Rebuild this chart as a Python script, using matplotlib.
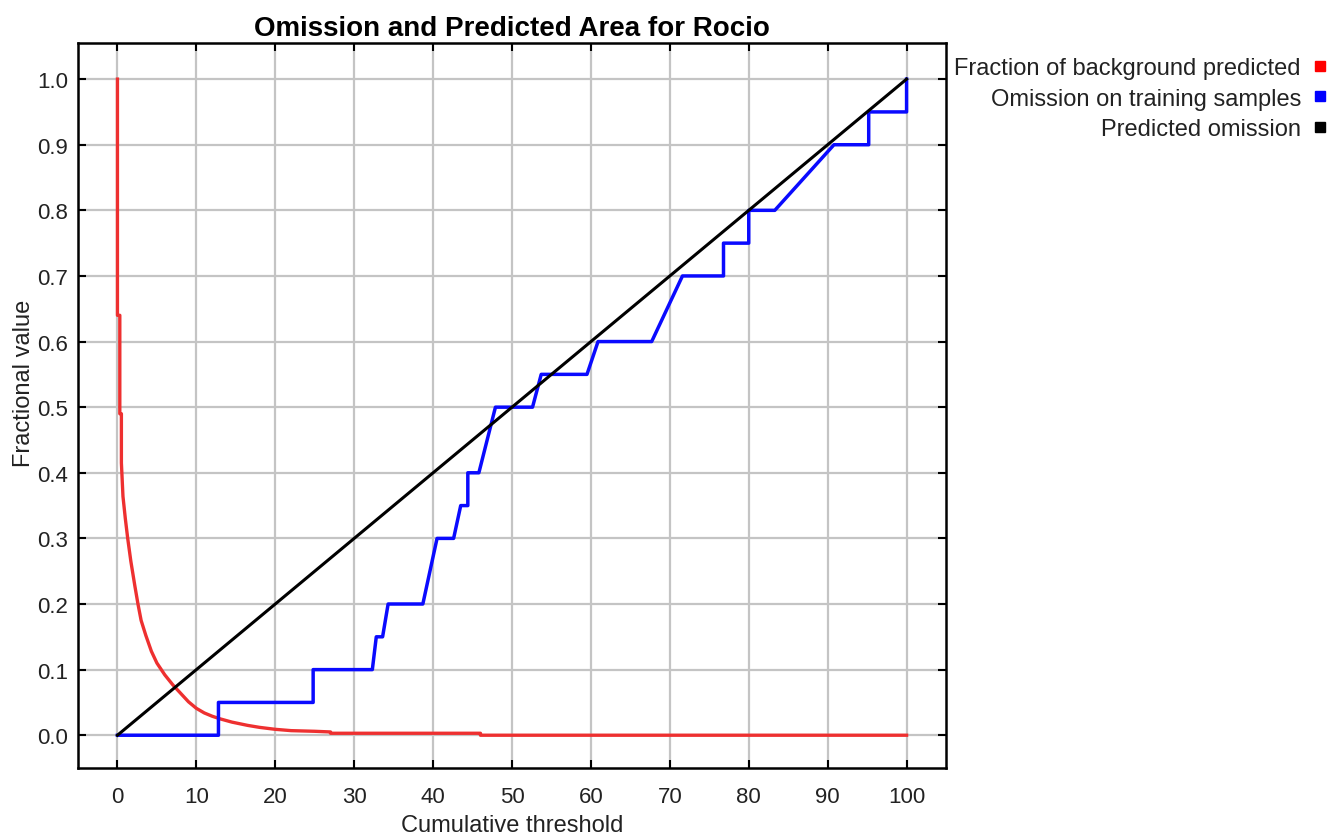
import numpy as np
import matplotlib.pyplot as plt
from matplotlib.lines import Line2D

plt.rcParams['font.family'] = ['Liberation Sans', 'DejaVu Sans']

# omission on training samples (step curve)
train_x = [0, 12.8, 12.8, 24.8, 24.8, 32.3, 32.8, 33.6, 34.3, 38.7, 40.5, 42.6,
           43.5, 44.4, 44.4, 45.8, 47.9, 52.6, 53.7, 59.5, 60.9, 67.7, 71.6,
           76.8, 76.8, 80.0, 80.0, 83.3, 90.8, 95.2, 95.2, 100, 100]
train_y = [0, 0, 0.05, 0.05, 0.10, 0.10, 0.15, 0.15, 0.20, 0.20, 0.30, 0.30,
           0.35, 0.35, 0.40, 0.40, 0.50, 0.50, 0.55, 0.55, 0.60, 0.60, 0.70,
           0.70, 0.75, 0.75, 0.80, 0.80, 0.90, 0.90, 0.95, 0.95, 1.0]

# fraction of background predicted
bg_x = [0, 0, 0.3, 0.3, 0.5, 0.5, 0.7, 1.0, 1.3, 1.7, 2.2, 2.6, 3.0, 3.6, 4.3,
        5.0, 6.0, 7.0, 8.0, 9.0, 10, 11, 12, 13, 14.5, 16.5, 18, 20, 22, 25,
        27, 27, 46, 46, 100]
bg_y = [1.0, 0.64, 0.64, 0.49, 0.49, 0.415, 0.364, 0.33, 0.30, 0.265, 0.228,
        0.20, 0.175, 0.152, 0.128, 0.110, 0.092, 0.077, 0.064, 0.051, 0.041,
        0.034, 0.029, 0.025, 0.020, 0.015, 0.012, 0.009, 0.007, 0.006, 0.005,
        0.003, 0.003, 0.0, 0.0]

# predicted omission
pred_x = [0, 100]
pred_y = [0, 1.0]

fig = plt.figure(figsize=(13.4, 8.37), dpi=100)
ax = fig.add_axes([0.0582, 0.0812, 0.6478, 0.8662])

ax.plot(bg_x, bg_y, color='#ee3030', lw=2.4, zorder=3)
ax.plot(train_x, train_y, color='#0a0aff', lw=2.5, zorder=4)
ax.plot(pred_x, pred_y, color='black', lw=2.2, zorder=5)

ax.set_xlim(-5, 105)
ax.set_ylim(-0.05, 1.055)
ax.set_xticks(np.arange(0, 101, 10))
ax.set_yticks(np.arange(0, 1.01, 0.1))
ax.set_yticklabels([f'{v:.1f}' for v in np.arange(0, 1.01, 0.1)])
ax.grid(True, color='#c4c4c4', lw=1.6)
ax.set_axisbelow(True)

for s in ax.spines.values():
    s.set_linewidth(1.8)
ax.tick_params(direction='in', length=6, width=1.5, labelsize=16,
               top=True, right=True, colors='black', labelcolor='#222222')
ax.tick_params(axis='y', pad=7)
ax.tick_params(axis='x', pad=13)

ax.set_title('Omission and Predicted Area for Rocio', fontsize=20,
             fontweight='bold', pad=6)
ax.set_xlabel('Cumulative threshold', fontsize=17, labelpad=5, color='#222222')
ax.set_ylabel('Fractional value', fontsize=17, color='#222222')
ax.yaxis.set_label_coords(-0.049, 0.532)

handles = [Line2D([], [], ls='none', marker='s', ms=7, color=c)
           for c in ['#ff0000', '#0000ff', '#000000']]
labels = ['Fraction of background predicted', 'Omission on training samples',
          'Predicted omission']
fig.legend(handles, labels, loc='upper right', bbox_to_anchor=(0.999, 0.945),
           frameon=False, markerfirst=False, fontsize=17, handlelength=0.6,
           handletextpad=0.5, labelspacing=0.37, borderpad=0, labelcolor='#222222')

fig.savefig('out.png', dpi=100)
